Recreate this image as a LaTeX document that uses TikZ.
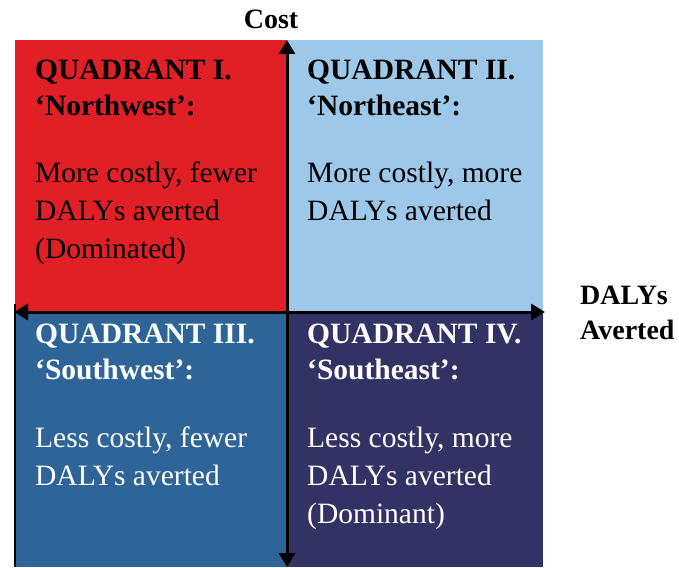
\documentclass[tikz,border=0pt]{standalone}
\usepackage{fontspec}
\setmainfont{Liberation Serif}
\usetikzlibrary{arrows.meta}
\definecolor{qred}{HTML}{E01F26}
\definecolor{qlblue}{HTML}{9DC8EA}
\definecolor{qsteel}{HTML}{2E6497}
\definecolor{qnavy}{HTML}{323264}
\tikzset{
  ttl/.style={anchor=base west, inner sep=0pt, align=left, font=\fontsize{29.5}{36}\selectfont\bfseries},
  body/.style={anchor=base west, inner sep=0pt, align=left, font=\fontsize{29.5}{38}\selectfont},
  axislabel/.style={inner sep=0pt, font=\fontsize{28}{35}\selectfont\bfseries},
  axis/.style={line width=3pt, -{Triangle[length=14pt,width=16pt]}},
}
\begin{document}
\begin{tikzpicture}[x=1pt,y=-1pt]
\useasboundingbox (0,0) rectangle (679,567);
% quadrants
\fill[qred] (15,40) rectangle (287,312);
\fill[qlblue] (287,40) rectangle (543,312);
\fill[qsteel] (15,312) rectangle (287,567);
\fill[qnavy] (287,312) rectangle (543,567);
\draw[line width=1.5pt] (15,304) -- (15,567);
% axes
\coordinate (top) at (287,40);
\coordinate (bot) at (287,567);
\coordinate (left) at (14,312);
\coordinate (right) at (545,312);
\coordinate (center) at (287,312);
\draw[axis] (center) -- (top);
\draw[axis] (center) -- (bot);
\draw[axis] (center) -- (left);
\draw[axis] (center) -- (right);
% axis labels
\node[axislabel, anchor=base] (cost) at (271,29) {Cost};
\node[axislabel, anchor=base west, align=left] (daly) at (580,339) {DALYs\\Averted};
% Quadrant I
\node[ttl] (t1) at (35,116) {QUADRANT I.\\‘Northwest’:};
\node[body] (b1) at (35,258) {More costly, fewer\\DALYs averted\\(Dominated)};
% Quadrant II
\node[ttl] (t2) at (307,116) {QUADRANT II.\\‘Northeast’:};
\node[body] (b2) at (307,220) {More costly, more\\DALYs averted};
% Quadrant III
\node[ttl, text=white] (t3) at (35,379) {QUADRANT III.\\‘Southwest’:};
\node[body, text=white] (b3) at (35,485) {Less costly, fewer\\DALYs averted};
% Quadrant IV
\node[ttl, text=white] (t4) at (307,379) {QUADRANT IV.\\‘Southeast’:};
\node[body, text=white] (b4) at (307,523) {Less costly, more\\DALYs averted\\(Dominant)};
\end{tikzpicture}
\end{document}
